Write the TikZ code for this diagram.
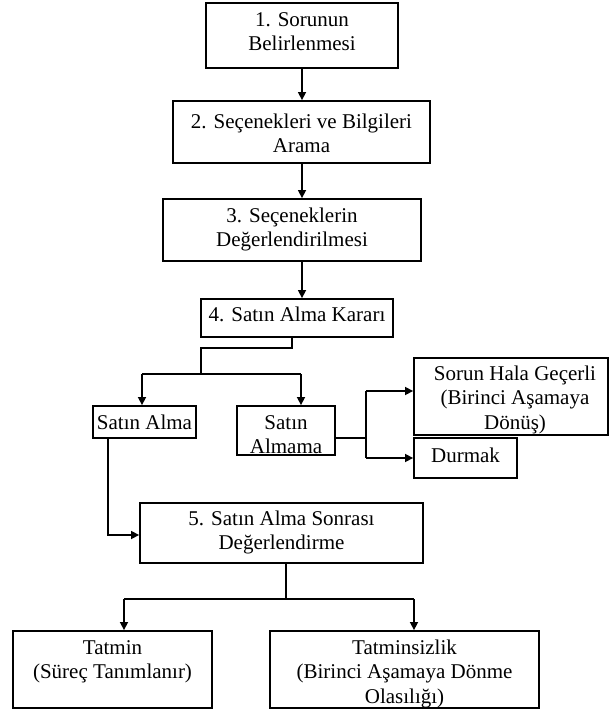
\documentclass[tikz,border=0pt]{standalone}
\usepackage{fontspec}
\setmainfont{Liberation Serif}
\usetikzlibrary{arrows.meta,calc}
\newcommand\flowbox[5]{\node[box, minimum width={#4-#2}, minimum height={#5-#3}] (#1) at ({(#2+#4)/2},{(#3+#5)/2}) {};}
\begin{document}
\begin{tikzpicture}[x=1pt,y=-1pt,
  box/.style={draw, line width=1.8pt, inner sep=0pt, rectangle},
  txt/.style={anchor=north, inner sep=0pt, align=center, font=\fontsize{21}{24.5}\selectfont},
  ln/.style={line width=1.5pt},
  arr/.style={line width=1.5pt, -{Triangle[length=8pt,width=8pt]}}]
\useasboundingbox (0,0) rectangle (609,711);
% boxes
\flowbox{b1}{206}{3}{398}{68}
\flowbox{b2}{173}{101}{430}{163}
\flowbox{b3}{163}{199}{421}{261}
\flowbox{b4}{201}{299}{393}{337}
\flowbox{sa}{93}{406}{196}{438}
\flowbox{sam}{237}{406}{335}{455}
\flowbox{sh}{414}{358}{608}{435}
\flowbox{du}{414}{438}{517}{478}
\flowbox{b5}{140}{503}{423}{563}
\flowbox{ta}{13}{631}{212}{708}
\flowbox{tb}{270}{631}{539}{708}
% texts
\node[txt] (t1) at ([yshift=-6.85pt]b1.north) {\strut 1. Sorunun\\Belirlenmesi};
\node[txt] (t2) at ([yshift=-11pt]b2.north) {\strut 2. Seçenekleri ve Bilgileri\\Arama};
\node[txt] (t3) at ([yshift=-6.85pt]b3.north) {\strut 3. Seçeneklerin\\Değerlendirilmesi};
\node[txt] (t4) at ([yshift=-5.85pt]b4.north) {\strut 4. Satın Alma Kararı};
\node[txt] (t5) at ([yshift=-6.85pt]sa.north) {\strut Satın Alma};
\node[txt] (t6) at ([yshift=-6.85pt]sam.north) {\strut Satın\\Almama};
\node[txt] (t7) at ([xshift=4pt,yshift=-6pt]sh.north) {\strut Sorun Hala Geçerli\\(Birinci Aşamaya\\Dönüş)};
\node[txt] (t8) at ([yshift=-8.5pt]du.north) {\strut Durmak};
\node[txt] (t9) at ([yshift=-5.85pt]b5.north) {\strut 5. Satın Alma Sonrası\\Değerlendirme};
\node[txt] (t10) at ([yshift=-6.85pt]ta.north) {\strut Tatmin\\(Süreç Tanımlanır)};
\node[txt] (t11) at ([yshift=-6.85pt]tb.north) {\strut Tatminsizlik\\(Birinci Aşamaya Dönme\\Olasılığı)};
% main chain
\draw[arr] (b1.south) -- (b1.south |- b2.north);
\draw[arr] (b1.south |- b2.south) -- (b1.south |- b3.north);
\draw[arr] (b1.south |- b3.south) -- (b1.south |- b4.north);
% decision branch
\coordinate (j1) at (292,348);
\coordinate (j2) at (201,348);
\coordinate (j3) at (201,374);
\coordinate (h1) at (142,374);
\coordinate (h2) at (301,374);
\draw[ln] (j1 |- b4.south) -- (j1) -- (j2) -- (j3);
\draw[ln] (h1) -- (h2);
\draw[arr] (h1) -- (h1 |- sa.north);
\draw[arr] (h2) -- (h2 |- sam.north);
% not buying
\coordinate (v) at (366,438);
\coordinate (v1) at (366,391);
\coordinate (v2) at (366,458);
\draw[ln] (v -| sam.east) -- (v);
\draw[ln] (v1) -- (v2);
\draw[arr] (v1) -- (v1 -| sh.west);
\draw[arr] (v2) -- (v2 -| du.west);
% buying
\coordinate (k) at (108,535);
\draw[arr] (k |- sa.south) -- (k) -- (k -| b5.west);
% post purchase
\coordinate (m) at (286,599);
\coordinate (m1) at (124,599);
\coordinate (m2) at (414,599);
\draw[ln] (m |- b5.south) -- (m);
\draw[ln] (m1) -- (m2);
\draw[arr] (m1) -- (m1 |- ta.north);
\draw[arr] (m2) -- (m2 |- tb.north);
\end{tikzpicture}
\end{document}
